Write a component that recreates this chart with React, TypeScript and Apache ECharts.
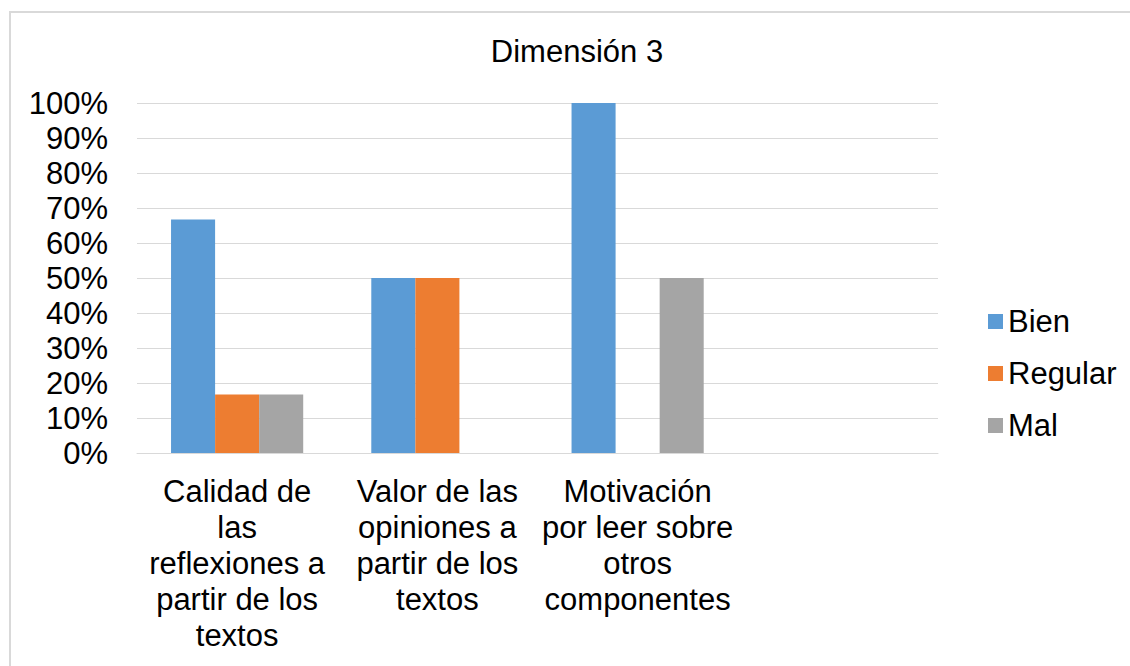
import React, { useEffect, useRef } from "react";
import * as echarts from "echarts";

const categories = [
  "Calidad de\nlas\nreflexiones a\npartir de los\ntextos",
  "Valor de las\nopiniones a\npartir de los\ntextos",
  "Motivación\npor leer sobre\notros\ncomponentes",
  "",
];
const bien = [66.7, 50, 100, null];
const regular = [16.7, 50, 0, null];
const mal = [16.7, 0, 50, null];
const seriesNames = ["Bien", "Regular", "Mal"];
const colors = ["#5B9BD5", "#ED7D31", "#A5A5A5"];
const titleText = "Dimensión 3";

const FONT = "'Liberation Sans', Arial, sans-serif";
const FS = 31;

export default function App() {
  const ref = useRef<HTMLDivElement>(null);
  useEffect(() => {
    if (!ref.current) return;
    const chart = echarts.init(ref.current, undefined, { renderer: "svg" });
    const values = [bien, regular, mal];
    chart.setOption({
      animation: false,
      backgroundColor: "#fff",
      textStyle: { fontFamily: FONT },
      graphic: [
        {
          type: "rect",
          shape: { x: 10, y: 12, width: 1130, height: 670 },
          style: { fill: "none", stroke: "#d9d9d9", lineWidth: 2 },
          silent: true,
        },
      ],
      title: {
        text: titleText,
        left: 572,
        top: 31,
        textAlign: "center",
        textStyle: { fontFamily: FONT, fontSize: FS, fontWeight: "normal", color: "#000" },
      },
      legend: {
        orient: "vertical",
        left: 983,
        top: 301,
        itemWidth: 15,
        itemHeight: 15,
        itemGap: 21,
        icon: "rect",
        data: seriesNames,
        textStyle: { fontFamily: FONT, fontSize: FS, color: "#000", lineHeight: 30, padding: [0, 0, 0, 0] },
      },
      grid: { left: 137, right: 192, top: 103, bottom: 213 },
      xAxis: {
        type: "category",
        data: categories,
        axisLine: { lineStyle: { color: "#d9d9d9", width: 1 } },
        axisTick: { show: false },
        axisLabel: {
          interval: 0,
          margin: 20,
          fontFamily: FONT,
          fontSize: FS,
          lineHeight: 36,
          color: "#000",
          align: "center",
        },
      },
      yAxis: {
        type: "value",
        min: 0,
        max: 100,
        interval: 10,
        axisLine: { show: false },
        axisTick: { show: false },
        splitLine: { lineStyle: { color: "#d9d9d9", width: 1 } },
        axisLabel: {
          formatter: "{value}%",
          margin: 29,
          fontFamily: FONT,
          fontSize: FS,
          color: "#000",
        },
      },
      series: seriesNames.map((name, i) => ({
        name,
        type: "bar",
        data: values[i],
        itemStyle: { color: colors[i] },
        barGap: "0%",
        barCategoryGap: "34%",
      })),
    });
    return () => chart.dispose();
  }, []);
  return (
    <div
      ref={ref}
      style={{ position: "fixed", left: 0, top: 0, width: 1130, height: 666 }}
    />
  );
}
